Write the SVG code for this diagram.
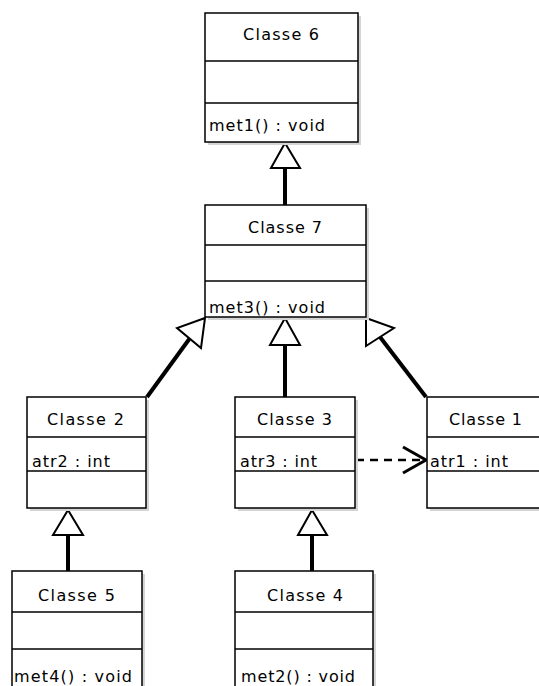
<svg xmlns="http://www.w3.org/2000/svg" width="539" height="686" viewBox="0 0 539 686">
<style>
.shadow{fill:#d4d4d4}
.box{fill:#fff;stroke:#000;stroke-width:1.5}
.sep{stroke:#000;stroke-width:1.5}
.t{font-family:"DejaVu Sans",sans-serif;font-size:16px;fill:#000}
.gen{stroke:#000;stroke-width:4;fill:none}
.tri{fill:#fff;stroke:#000;stroke-width:2;stroke-linejoin:miter}
.dep{stroke:#000;stroke-width:2.5;fill:none;stroke-dasharray:8 6}
.open{stroke:#000;stroke-width:3;fill:none}
</style>
<rect width="539" height="686" fill="#fff"/>
<g id="connectors">
<line class="gen" x1="285" y1="168" x2="285" y2="205"/>
<polygon class="tri" points="285,143 271,168 300,168"/>
<line class="gen" x1="190" y1="338" x2="147" y2="397"/>
<polygon class="tri" points="205,318 177,328 201,348"/>
<line class="gen" x1="285" y1="345" x2="285" y2="397"/>
<polygon class="tri" points="285,318 270,345 300,345"/>
<line class="gen" x1="380" y1="337" x2="426" y2="397"/>
<polygon class="tri" points="366,318 394,328 366,346"/>
<line class="gen" x1="68" y1="535" x2="68" y2="571"/>
<polygon class="tri" points="68,510 53,535 83,535"/>
<line class="gen" x1="312" y1="535" x2="312" y2="571"/>
<polygon class="tri" points="312,510 298,535 327,535"/>
<line class="dep" x1="356" y1="460" x2="424" y2="460"/>
<polyline class="open" points="403,447 426,460 403,473"/>
</g>
<g id="classe6">
<rect class="shadow" x="208" y="16" width="153" height="129"/>
<rect class="box" x="205" y="13" width="153" height="129"/>
<line class="sep" x1="205" y1="61" x2="358" y2="61"/>
<line class="sep" x1="205" y1="103" x2="358" y2="103"/>
<text class="t" x="243" y="40" textLength="76">Classe 6</text>
<text class="t" x="209" y="131" textLength="116">met1() : void</text>
</g>
<g id="classe7">
<rect class="shadow" x="208" y="208" width="161" height="112"/>
<rect class="box" x="205" y="205" width="161" height="112"/>
<line class="sep" x1="205" y1="245" x2="366" y2="245"/>
<line class="sep" x1="205" y1="281" x2="366" y2="281"/>
<text class="t" x="248" y="233" textLength="74">Classe 7</text>
<text class="t" x="209" y="313" textLength="116">met3() : void</text>
</g>
<g id="classe2">
<rect class="shadow" x="30" y="400" width="119" height="111"/>
<rect class="box" x="27" y="397" width="119" height="111"/>
<line class="sep" x1="27" y1="437" x2="146" y2="437"/>
<line class="sep" x1="27" y1="471" x2="146" y2="471"/>
<text class="t" x="47" y="425" textLength="77">Classe 2</text>
<text class="t" x="32" y="467" textLength="78">atr2 : int</text>
</g>
<g id="classe3">
<rect class="shadow" x="238" y="400" width="120" height="111"/>
<rect class="box" x="235" y="397" width="120" height="111"/>
<line class="sep" x1="235" y1="437" x2="355" y2="437"/>
<line class="sep" x1="235" y1="471" x2="355" y2="471"/>
<text class="t" x="257" y="425" textLength="75">Classe 3</text>
<text class="t" x="240" y="467" textLength="77">atr3 : int</text>
</g>
<g id="classe1">
<rect class="shadow" x="430" y="400" width="120" height="111"/>
<rect class="box" x="427" y="397" width="120" height="111"/>
<line class="sep" x1="427" y1="437" x2="547" y2="437"/>
<line class="sep" x1="427" y1="471" x2="547" y2="471"/>
<text class="t" x="449" y="425" textLength="73">Classe 1</text>
<text class="t" x="430" y="467" textLength="78">atr1 : int</text>
</g>
<g id="classe5">
<rect class="shadow" x="15" y="574" width="130" height="130"/>
<rect class="box" x="12" y="571" width="130" height="130"/>
<line class="sep" x1="12" y1="612" x2="142" y2="612"/>
<line class="sep" x1="12" y1="649" x2="142" y2="649"/>
<text class="t" x="38" y="601" textLength="77">Classe 5</text>
<text class="t" x="14" y="682" textLength="118">met4() : void</text>
</g>
<g id="classe4">
<rect class="shadow" x="238" y="574" width="138" height="130"/>
<rect class="box" x="235" y="571" width="138" height="130"/>
<line class="sep" x1="235" y1="612" x2="373" y2="612"/>
<line class="sep" x1="235" y1="649" x2="373" y2="649"/>
<text class="t" x="267" y="601" textLength="76">Classe 4</text>
<text class="t" x="241" y="682" textLength="114">met2() : void</text>
</g>
</svg>
